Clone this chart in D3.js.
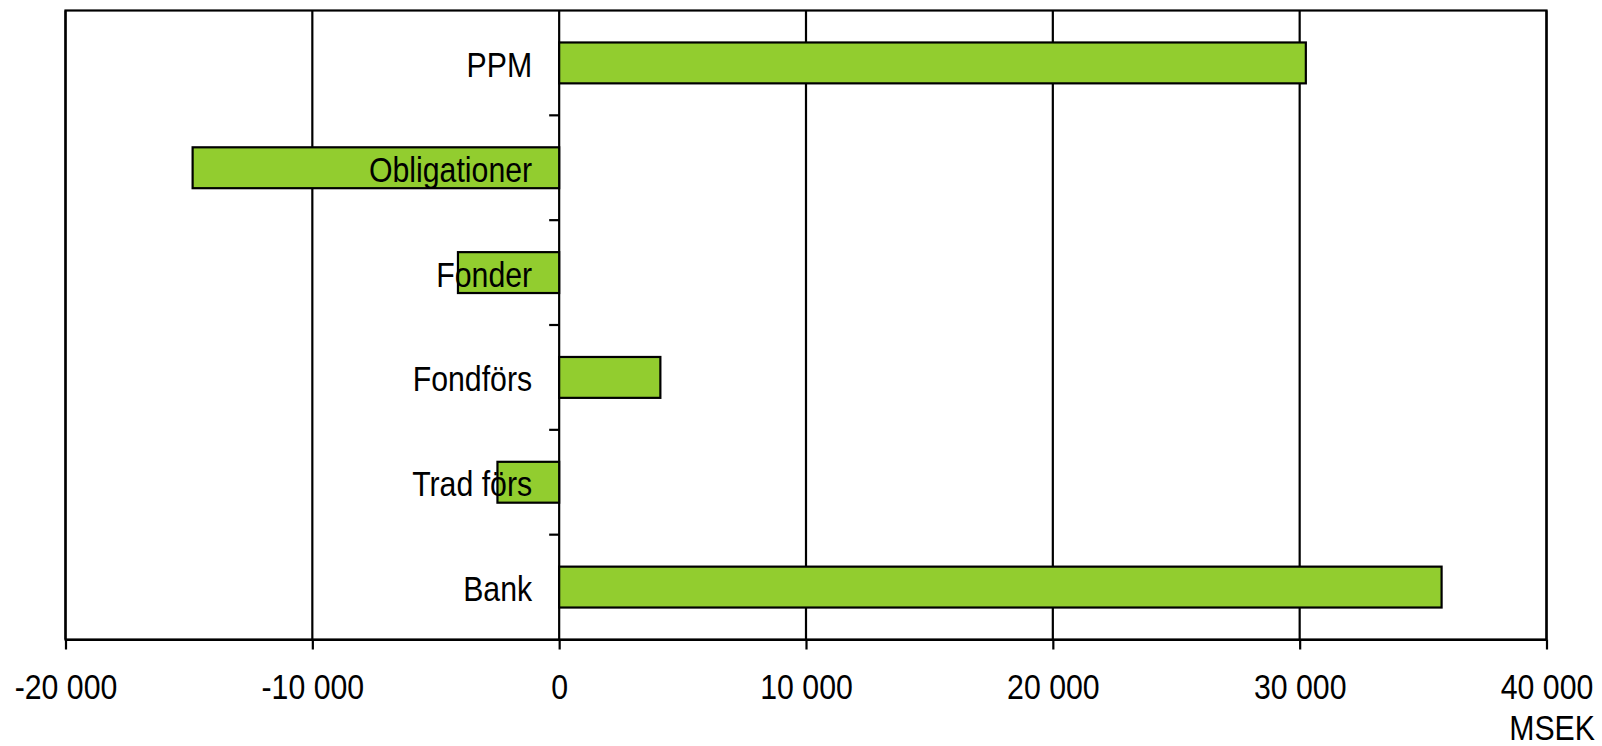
<!DOCTYPE html>
<html>
<head>
<meta charset="utf-8">
<script src="https://cdn.jsdelivr.net/npm/d3@7"></script>
<style>
  html, body { margin: 0; padding: 0; background: #fff; }
  text { font-family: "Liberation Sans", Arial, sans-serif; fill: #000; }
</style>
</head>
<body>
<svg id="chart" width="1602" height="746"></svg>
<script>
const categories = ["PPM", "Obligationer", "Fonder", "Fondförs", "Trad förs", "Bank"];
const values = [30250, -14850, -4100, 4100, -2500, 35750];
const xTicks = [-20000, -10000, 0, 10000, 20000, 30000, 40000];
const xTickLabels = ["-20 000", "-10 000", "0", "10 000", "20 000", "30 000", "40 000"];
const unitLabel = "MSEK";

(function () {
const svg = d3.select("#chart");
const mLeft = 65.5, mRight = 1546.5, mTop = 10.5, mBottom = 639.5;
const SX = 0.865, FS = "35px";

const x = d3.scaleLinear().domain([-20000, 40000]).range([mLeft, mRight]);
const y = d3.scaleBand().domain(categories).range([mTop, mBottom]).paddingInner(0.61).paddingOuter(0.305);

// gridlines
svg.append("g").selectAll("line").data(xTicks).join("line")
  .attr("x1", d => x(d)).attr("x2", d => x(d))
  .attr("y1", mTop).attr("y2", mBottom)
  .attr("stroke", "#000").attr("stroke-width", 2.2);

// frame
svg.append("rect").attr("x", mLeft).attr("y", mTop)
  .attr("width", mRight - mLeft).attr("height", mBottom - mTop)
  .attr("fill", "none").attr("stroke", "#000").attr("stroke-width", 2.2);

// bars
svg.append("g").selectAll("rect").data(categories).join("rect")
  .attr("x", (d, i) => x(Math.min(0, values[i])))
  .attr("width", (d, i) => Math.abs(x(values[i]) - x(0)))
  .attr("y", d => y(d))
  .attr("height", y.bandwidth())
  .attr("fill", "#92cd2f")
  .attr("stroke", "#000").attr("stroke-width", 2.2);

// x axis
const xAxis = d3.axisBottom(x).tickValues(xTicks)
  .tickFormat((d, i) => xTickLabels[i]).tickSize(10).tickSizeOuter(0).tickPadding(24.5);
const gx = svg.append("g").attr("transform", `translate(0,${mBottom})`).call(xAxis);
gx.select(".domain").attr("stroke-width", 2.2);
gx.selectAll(".tick line").attr("stroke-width", 2.2);
gx.selectAll(".tick text").style("font-size", FS)
  .style("font-family", '"Liberation Sans", Arial, sans-serif')
  .attr("transform", `scale(${SX},1)`);

// y ticks at band boundaries on the zero axis
const step = y.step();
const boundaries = categories.slice(1).map(d => y(d) - (step - y.bandwidth()) / 2);
svg.append("g").selectAll("line").data(boundaries).join("line")
  .attr("x1", x(0) - 10).attr("x2", x(0))
  .attr("y1", d => d).attr("y2", d => d)
  .attr("stroke", "#000").attr("stroke-width", 2.2);

// category labels
svg.append("g").selectAll("text").data(categories).join("text")
  .attr("transform", d => `translate(${x(0) - 27},${y(d) + y.bandwidth() / 2}) scale(${SX},1)`)
  .attr("dy", "0.4em")
  .attr("text-anchor", "end")
  .style("font-size", FS)
  .text(d => d);

// unit label
svg.append("text").attr("transform", `translate(1595,740) scale(${SX},1)`)
  .attr("text-anchor", "end").style("font-size", FS).text(unitLabel);
})();
</script>
</body>
</html>
